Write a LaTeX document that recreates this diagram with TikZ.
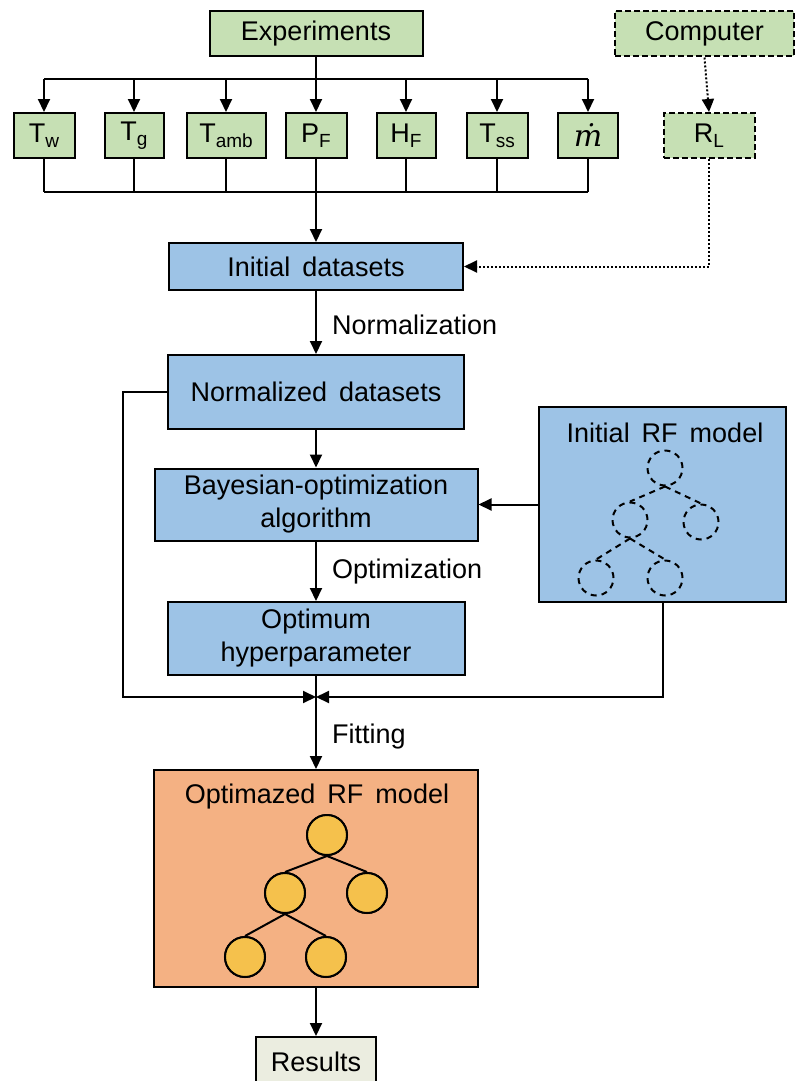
\documentclass[tikz,border=0pt]{standalone}
\usepackage{fontspec}
\setmainfont{Liberation Sans}
\newfontfamily\mdotfont{DejaVu Serif}
\usetikzlibrary{arrows.meta}
\definecolor{greenbox}{RGB}{198,224,180}
\definecolor{bluebox}{RGB}{157,195,230}
\definecolor{orangebox}{RGB}{244,177,131}
\definecolor{leafcol}{RGB}{245,193,76}
\definecolor{resbox}{RGB}{235,237,224}
\tikzset{
  base/.style={draw=black, line width=2pt, inner sep=0pt, align=center,
    font=\fontsize{27}{33}\selectfont},
  gbox/.style={base, fill=greenbox, minimum height=45pt},
  gdash/.style={gbox, dashed, dash pattern=on 6pt off 3pt},
  bbox/.style={base, fill=bluebox},
  obox/.style={base, fill=orangebox},
  conn/.style={line width=2pt, draw=black},
  arr/.style={conn, -{Triangle[length=13pt,width=12pt]}},
  dotarr/.style={line width=2pt, dash pattern=on 2pt off 2pt, -{Triangle[length=13pt,width=12pt]}},
  lbl/.style={anchor=west, inner sep=0pt, font=\fontsize{27}{33}\selectfont},
  leaf/.style={circle, draw=black, line width=2pt, fill=leafcol, minimum size=40pt, inner sep=0pt},
  dleaf/.style={circle, draw=black, line width=2pt, dash pattern=on 6pt off 5pt, minimum size=35pt, inner sep=0pt},
  title/.style={inner sep=0pt, font=\fontsize{27}{33}\selectfont}
}
% letter with a lowered subscript, as used for the measured quantities
\newcommand{\qsub}[2]{#1\raisebox{-5pt}{\fontsize{19}{20}\selectfont #2}}
\begin{document}
\begin{tikzpicture}[x=1pt,y=-1pt]
\useasboundingbox[fill=white] (0,0) rectangle (795,1081);

% sources
\node[gbox, minimum width=213pt] (exp) at (316,34) {Experiments};
\node[gdash, minimum width=179pt] (comp) at (704.5,34) {Computer};

% measured quantities
\node[gbox, minimum width=61pt] (tw) at (44,135.5) {\qsub{T}{w}};
\node[gbox, minimum width=59pt] (tg) at (134,135.5) {\qsub{T}{g}};
\node[gbox, minimum width=79pt] (tamb) at (226,135.5) {\qsub{T}{amb}};
\node[gbox, minimum width=61pt] (pf) at (316,135.5) {\qsub{P}{F}};
\node[gbox, minimum width=59pt] (hf) at (406,135.5) {\qsub{H}{F}};
\node[gbox, minimum width=61pt] (tss) at (497,135.5) {\qsub{T}{ss}};
\node[gbox, minimum width=60pt, font=\mdotfont\itshape\fontsize{30}{33}\selectfont] (md) at (588,135.5) {ṁ};
\node[gdash, minimum width=91pt] (rl) at (709,135.5) {\qsub{R}{L}};

% data processing chain
\node[bbox, minimum width=294pt, minimum height=47pt] (init) at (316,266.5) {Initial\, datasets};
\node[bbox, minimum width=296pt, minimum height=74pt] (norm) at (316,392) {Normalized\, datasets};
\node[bbox, minimum width=323pt, minimum height=72pt] (bayes) at (316,504.5) {Bayesian-optimization\\algorithm};
\node[bbox, minimum width=297pt, minimum height=73pt] (optim) at (316,638.5) {Optimum\\hyperparameter};
\node[bbox, minimum width=247pt, minimum height=195pt] (irf) at (662.5,504.5) {};
\node[obox, minimum width=324pt, minimum height=217pt] (orf) at (316,878.5) {};
\node[base, fill=resbox, minimum width=120pt, minimum height=56pt, anchor=north] (res) at (316,1036) {};
\node[title] (restxt) at (316,1062) {Results};

% titles inside the model boxes
\node[title] (irft) at (665,433) {Initial\, RF\, model};
\node[title] (orft) at (317,797) {Optimazed\, RF\, model};

% initial (untrained) tree
\node[dleaf] (d0) at (665,468) {};
\node[dleaf] (d1) at (630,520) {};
\node[dleaf] (d2) at (701,522) {};
\node[dleaf] (d3) at (596,578) {};
\node[dleaf] (d4) at (665,578) {};
\draw[line width=2pt, dash pattern=on 6pt off 5pt] (d0.south) -- (d1.north) (d0.south) -- (d2.north)
  (d1.south) -- (d3.north) (d1.south) -- (d4.north);

% optimised tree: edges first, leaves on top
\path (327,835) node[leaf] (o0) {}
      (285,893) node[leaf] (o1) {}
      (367,893) node[leaf] (o2) {}
      (245,957) node[leaf] (o3) {}
      (326,957) node[leaf] (o4) {};
\draw[line width=2pt] (o0.south) -- (o1.north) (o0.south) -- (o2.north)
  (o1.south) -- (o3.north) (o1.south) -- (o4.north);
\foreach \o in {o0,o1,o2,o3,o4}
  \node[leaf] at (\o) {};

% branching from experiments
\coordinate (br) at (316,79);
\draw[conn] (exp.south) -- (br);
\draw[conn] (tw.north |- br) -- (md.north |- br);
\foreach \q in {tw,tg,tamb,pf,hf,tss,md}
  \draw[arr] (\q.north |- br) -- (\q.north);

% collecting bus
\coordinate (bus) at (316,192);
\foreach \q in {tw,tg,tamb,pf,hf,tss,md}
  \draw[conn] (\q.south) -- (\q.south |- bus);
\draw[conn] (tw.south |- bus) -- (md.south |- bus);
\draw[arr] (bus) -- (init.north);

% computer branch
\coordinate (rlc) at (709,266.5);
\draw[dotarr] (comp.south) -- (rl.north);
\draw[dotarr] (rl.south) -- (rlc) -- (init.east);

% main chain
\draw[arr] (init.south) -- (norm.north);
\node[lbl] (lnorm) at (332,325) {Normalization};
\draw[arr] (norm.south) -- (bayes.north);
\draw[arr] (irf.west) -- (bayes.east);
\draw[arr] (bayes.south) -- (optim.north);
\node[lbl] (lopt) at (332,572) {Optimization};

% merging into the fit
\coordinate (mg) at (316,697);
\coordinate (lc) at (123,392);
\draw[arr] (norm.west) -- (lc) -- (lc |- mg) -- (mg);
\draw[arr] (irf.south) -- (irf.south |- mg) -- (mg);
\draw[conn] (optim.south) -- (mg);
\draw[arr] (mg) -- (orf.north);
\node[lbl] (lfit) at (332,737) {Fitting};

\draw[arr] (orf.south) -- (res.north);
\end{tikzpicture}
\end{document}
